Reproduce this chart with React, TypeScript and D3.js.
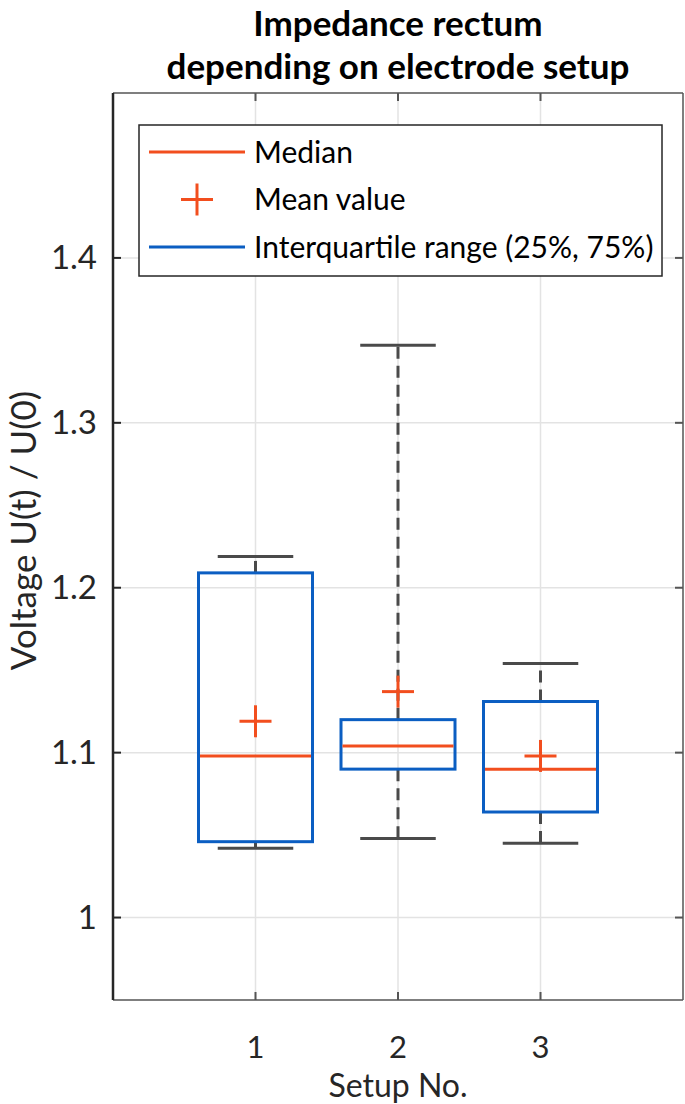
import React from "react";
import * as d3 from "d3";

const setups = [1, 2, 3];
const q1 = [1.046, 1.090, 1.064];
const q3 = [1.209, 1.120, 1.131];
const medians = [1.098, 1.104, 1.090];
const means = [1.119, 1.137, 1.098];
const whiskerLow = [1.042, 1.048, 1.045];
const whiskerHigh = [1.219, 1.347, 1.154];
const yTicks = [1, 1.1, 1.2, 1.3, 1.4];
const xTicks = [1, 2, 3];
const legendItems = ["Median", "Mean value", "Interquartile range (25%, 75%)"];
const titleLines = ["Impedance rectum", "depending on electrode setup"];

const W = 685, H = 1104;
const L = 113, R = 683, T = 93, B = 1000;
const FONT = "Lato, 'Open Sans', sans-serif";
const ORANGE = "#f24e1e";
const BLUE = "#0b5ec2";
const WHISK = "#4a4a4a";
const AX = "#262626";

export default function App() {
  const x = d3.scaleLinear().domain([0, 4]).range([L, R]);
  const y = d3.scaleLinear().domain([0.95, 1.5]).range([B, T]);
  const unit = x(1) - x(0);
  const boxHalf = 0.4 * unit;
  const capHalf = 0.265 * unit;
  const plusHalf = 16;

  return (
    <svg width={W} height={H} style={{ position: "absolute", left: 0, top: 0, background: "#fff" }} fontFamily={FONT}>
      <rect x={0} y={0} width={W} height={H} fill="#fff" />
      {/* grid */}
      {xTicks.map((t) => (
        <line key={"gx" + t} x1={x(t)} x2={x(t)} y1={T} y2={B} stroke="#e3e3e3" strokeWidth={1.5} />
      ))}
      {yTicks.map((t) => (
        <line key={"gy" + t} x1={L} x2={R} y1={y(t)} y2={y(t)} stroke="#e3e3e3" strokeWidth={1.5} />
      ))}
      {/* boxes */}
      {setups.map((s, i) => {
        const cx = x(s);
        return (
          <g key={"b" + s}>
            <line x1={cx} x2={cx} y1={y(q3[i])} y2={y(whiskerHigh[i])} stroke={WHISK} strokeWidth={3} strokeDasharray="12,7" />
            <line x1={cx} x2={cx} y1={y(q1[i])} y2={y(whiskerLow[i])} stroke={WHISK} strokeWidth={3} strokeDasharray="12,7" />
            <line x1={cx - capHalf} x2={cx + capHalf} y1={y(whiskerHigh[i])} y2={y(whiskerHigh[i])} stroke={WHISK} strokeWidth={3} />
            <line x1={cx - capHalf} x2={cx + capHalf} y1={y(whiskerLow[i])} y2={y(whiskerLow[i])} stroke={WHISK} strokeWidth={3} />
            <rect x={cx - boxHalf} y={y(q3[i])} width={2 * boxHalf} height={y(q1[i]) - y(q3[i])} fill="none" stroke={BLUE} strokeWidth={3} />
            <line x1={cx - boxHalf + 1.5} x2={cx + boxHalf - 1.5} y1={y(medians[i])} y2={y(medians[i])} stroke={ORANGE} strokeWidth={3} />
            <line x1={cx - plusHalf} x2={cx + plusHalf} y1={y(means[i])} y2={y(means[i])} stroke={ORANGE} strokeWidth={3} />
            <line x1={cx} x2={cx} y1={y(means[i]) - plusHalf} y2={y(means[i]) + plusHalf} stroke={ORANGE} strokeWidth={3} />
          </g>
        );
      })}
      {/* axes frame */}
      <line x1={L} x2={R} y1={T} y2={T} stroke="#555" strokeWidth={1.5} />
      <line x1={R} x2={R} y1={T} y2={B} stroke="#555" strokeWidth={1.5} />
      <line x1={L} x2={R} y1={B} y2={B} stroke="#555" strokeWidth={1.5} />
      <line x1={L} x2={L} y1={T} y2={B} stroke={AX} strokeWidth={2.5} />
      {/* ticks */}
      {yTicks.map((t) => (
        <g key={"ty" + t}>
          <line x1={L} x2={L + 8} y1={y(t)} y2={y(t)} stroke={AX} strokeWidth={2} />
          <line x1={R - 8} x2={R} y1={y(t)} y2={y(t)} stroke="#555" strokeWidth={2} />
          <text x={L - 16} y={y(t)} dy="0.35em" textAnchor="end" fontSize={33} fill={AX}>
            {d3.format("~g")(t)}
          </text>
        </g>
      ))}
      {xTicks.map((t) => (
        <g key={"tx" + t}>
          <line x1={x(t)} x2={x(t)} y1={B} y2={B - 8} stroke="#555" strokeWidth={2} />
          <line x1={x(t)} x2={x(t)} y1={T} y2={T + 8} stroke="#555" strokeWidth={2} />
          <text x={x(t)} y={1047} dy="0.35em" textAnchor="middle" fontSize={31} fill={AX}>
            {t}
          </text>
        </g>
      ))}
      {/* axis labels */}
      <text x={(L + R) / 2} y={1086} dy="0.35em" textAnchor="middle" fontSize={32} fill={AX}>
        Setup No.
      </text>
      <text transform={`translate(24,${(T + B) / 2 - 16}) rotate(-90)`} dy="0.35em" textAnchor="middle" fontSize={35} fill={AX}>
        Voltage U(t) / U(0)
      </text>
      {/* title */}
      {titleLines.map((t, i) => (
        <text key={"tt" + i} x={(L + R) / 2} y={36 + i * 43} textAnchor="middle" fontSize={35} fontWeight="bold" fill="#000">
          {t}
        </text>
      ))}
      {/* legend */}
      <rect x={139} y={125} width={523} height={151} fill="#fff" stroke={AX} strokeWidth={1.5} />
      {legendItems.map((t, i) => {
        const ly = 152 + i * 47.5;
        return (
          <g key={"lg" + i}>
            {i === 0 && <line x1={149} x2={245} y1={ly} y2={ly} stroke={ORANGE} strokeWidth={3} />}
            {i === 1 && (
              <g>
                <line x1={197 - plusHalf} x2={197 + plusHalf} y1={ly} y2={ly} stroke={ORANGE} strokeWidth={3} />
                <line x1={197} x2={197} y1={ly - plusHalf} y2={ly + plusHalf} stroke={ORANGE} strokeWidth={3} />
              </g>
            )}
            {i === 2 && <line x1={149} x2={245} y1={ly} y2={ly} stroke={BLUE} strokeWidth={3} />}
            <text x={254} y={ly} dy="0.35em" fontSize={30} fill="#000">
              {t}
            </text>
          </g>
        );
      })}
    </svg>
  );
}
